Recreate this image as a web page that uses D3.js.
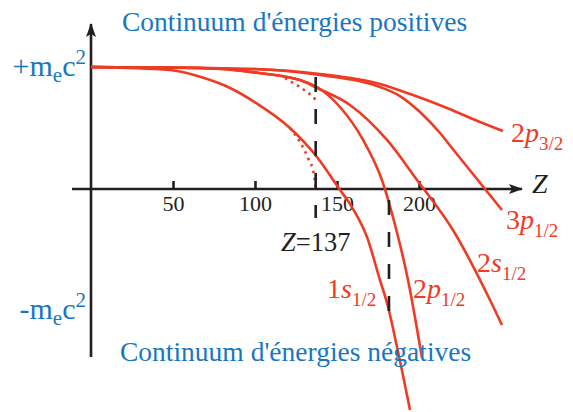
<!DOCTYPE html>
<html lang="fr">
<head>
<meta charset="utf-8">
<title>Niveaux de Dirac</title>
<script src="https://d3js.org/d3.v7.min.js"></script>
<style>
body  { margin: 0; background: #fff; }
svg   { display: block; }
svg text { font-family: "Liberation Serif", "Times New Roman", serif; }
.curve  { fill: none; stroke: #ef3b23; stroke-width: 2.6; }
.dotted { fill: none; stroke: #ef3b23; stroke-width: 2.6; stroke-dasharray: 2.5,4.5; }
.dash   { stroke: #231f20; stroke-width: 2.6; stroke-dasharray: 15,17; }
.axis-line { stroke: #231f20; stroke-width: 2.6; }
.blue { fill: #1877c0; }
.red  { fill: #ef3b23; }
</style>
</head>
<body>
<script>

// Z values and energies (units of m_e c^2)
var z1s   = [0, 48.2, 66.5, 84.8, 102.4, 121.3, 137.8, 150.6, 159.1, 168.3, 176.2, 180.5, 186.6, 194.5];
var e1s   = [1, 0.975, 0.92, 0.828, 0.689, 0.5, 0.262, 0.016, -0.148, -0.394, -0.746, -0.934, -1.295, -1.811];

var z2p12 = [0, 66.5, 102.4, 127.4, 137.8, 151.8, 165.9, 177.4, 185.4, 193.3, 201.8];
var e2p12 = [1, 0.992, 0.951, 0.893, 0.836, 0.672, 0.402, 0.074, -0.295, -0.746, -1.385];

var z2s   = [0, 66.5, 102.4, 127.4, 137.8, 157.9, 180.5, 198.8, 220.7, 243.3, 250.6];
var e2s   = [1, 0.992, 0.951, 0.893, 0.828, 0.689, 0.402, 0.074, -0.336, -0.91, -1.115];

var z3p12 = [0, 97, 139.6, 176.2, 188.4, 200.6, 212.8, 220.1, 250.6];
var e3p12 = [1, 0.984, 0.934, 0.836, 0.762, 0.631, 0.459, 0.336, -0.172];

var z2p32 = [0, 97, 139.6, 176.2, 196.3, 217.1, 237.2, 251.2];
var e2p32 = [1, 0.984, 0.943, 0.861, 0.77, 0.664, 0.549, 0.475];

// point-nucleus solutions, stopping at Z = 137
var z1sPt = [121.3, 127.4, 132.3, 136, 137];
var e1sPt = [0.5, 0.385, 0.254, 0.115, 0];
var z2sPt = [118.3, 123.2, 127.4, 131.7, 134.8, 137];
var e2sPt = [0.91, 0.869, 0.836, 0.795, 0.762, 0.73];

var xTicks = [50, 100, 150, 200];
var zCrit = 137;
var zDive = 181.7;

var svg = d3.select("body").append("svg")
    .attr("width", 573)
    .attr("height", 412);

var x = d3.scaleLinear().domain([0, 200]).range([91, 419]);
var y = d3.scaleLinear().domain([-1, 1]).range([311, 67]);

var defs = svg.append("defs");
defs.append("marker")
    .attr("id", "arrow")
    .attr("viewBox", "0 0 14 10")
    .attr("refX", 13).attr("refY", 5)
    .attr("markerWidth", 14).attr("markerHeight", 10)
    .attr("markerUnits", "userSpaceOnUse")
    .attr("orient", "auto")
  .append("path")
    .attr("d", "M0,0 L14,5 L0,10 L3,5 Z")
    .attr("fill", "#231f20");

// axes
svg.append("line").attr("class", "axis-line")
    .attr("x1", 72).attr("y1", y(0)).attr("x2", 522).attr("y2", y(0))
    .attr("marker-end", "url(#arrow)");
svg.append("line").attr("class", "axis-line")
    .attr("x1", x(0)).attr("y1", 357).attr("x2", x(0)).attr("y2", 24)
    .attr("marker-end", "url(#arrow)");

var xAxis = svg.append("g")
    .attr("transform", "translate(0," + y(0) + ")")
    .call(d3.axisBottom(x).tickValues(xTicks).tickSizeInner(-8).tickSizeOuter(0).tickPadding(6));
xAxis.select(".domain").remove();
xAxis.selectAll(".tick line").attr("stroke", "#231f20").attr("stroke-width", 2.6);
xAxis.selectAll(".tick text")
    .attr("font-size", 22)
    .attr("fill", "#231f20");

svg.append("text")
    .attr("x", 532).attr("y", 193)
    .attr("font-size", 28).attr("font-style", "italic").attr("fill", "#231f20")
    .text("Z");

// curves
var line = d3.line()
    .x(function(d) { return x(d[0]); })
    .y(function(d) { return y(d[1]); })
    .curve(d3.curveMonotoneX);

function pairs(zs, es) { return zs.map(function(z, i) { return [z, es[i]]; }); }

var g = svg.append("g");
[[z2p32, e2p32], [z3p12, e3p12], [z2s, e2s], [z2p12, e2p12], [z1s, e1s]].forEach(function(c) {
  g.append("path").attr("class", "curve").attr("d", line(pairs(c[0], c[1])));
});
g.append("path").attr("class", "dotted").attr("d", line(pairs(z1sPt, e1sPt)));
g.append("path").attr("class", "dotted").attr("d", line(pairs(z2sPt, e2sPt)));

// dashed markers
svg.append("line").attr("class", "dash")
    .attr("x1", x(zCrit)).attr("y1", 77).attr("x2", x(zCrit)).attr("y2", 218);
svg.append("line").attr("class", "dash")
    .attr("x1", x(zDive)).attr("y1", y(-1)).attr("x2", x(zDive)).attr("y2", 196);

var zl = svg.append("text")
    .attr("x", 281).attr("y", 251)
    .attr("font-size", 26.5).attr("fill", "#231f20");
zl.append("tspan").attr("font-style", "italic").text("Z");
zl.append("tspan").text("=137");

// blue texts
svg.append("text").attr("class", "blue")
    .attr("x", 122).attr("y", 31).attr("font-size", 27.5)
    .text("Continuum d'énergies positives");
svg.append("text").attr("class", "blue")
    .attr("x", 120).attr("y", 361).attr("font-size", 27.5)
    .text("Continuum d'énergies négatives");

function mc2(label, yy) {
  var t = svg.append("text").attr("class", "blue")
      .attr("x", 86).attr("y", yy).attr("font-size", 30).attr("text-anchor", "end");
  t.append("tspan").text(label + "m");
  t.append("tspan").attr("font-size", 21).attr("dy", 6).text("e");
  t.append("tspan").attr("dy", -6).text("c");
  t.append("tspan").attr("font-size", 21).attr("dy", -12).text("2");
}
mc2("+", 76);
mc2("-", 319);

// state labels
function state(n, l, j, xx, yy) {
  var t = svg.append("text").attr("class", "red")
      .attr("x", xx).attr("y", yy).attr("font-size", 28);
  t.append("tspan").text(n);
  t.append("tspan").attr("font-style", "italic").text(l);
  t.append("tspan").attr("font-size", 19).attr("dy", 8).text(j);
}
state("2", "p", "3/2", 511, 142);
state("3", "p", "1/2", 506, 229);
state("2", "s", "1/2", 477, 272);
state("1", "s", "1/2", 327, 298);
state("2", "p", "1/2", 413, 298);

</script>
</body>
</html>
